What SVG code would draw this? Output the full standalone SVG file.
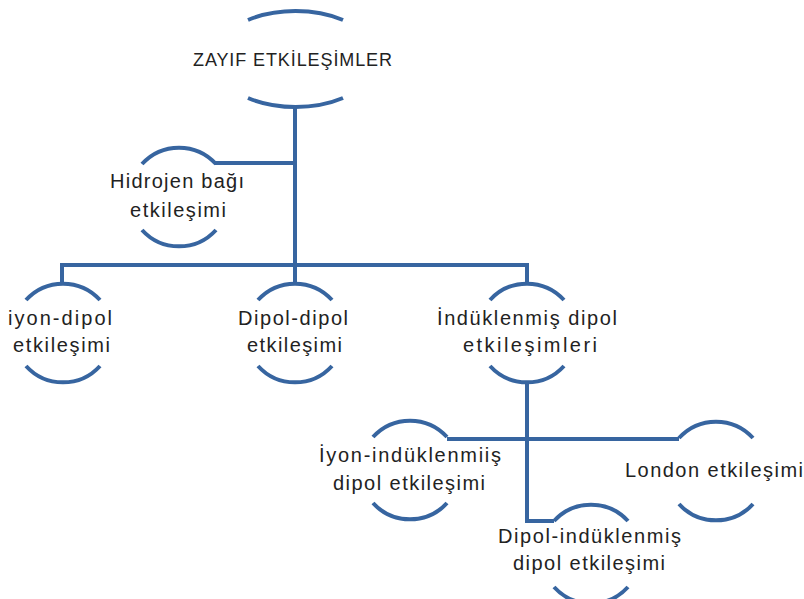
<svg xmlns="http://www.w3.org/2000/svg" width="804" height="599" viewBox="0 0 804 599">
<style>
.arc{fill:none;stroke:#3765a0;stroke-width:4;stroke-linecap:butt}
.con{fill:none;stroke:#3765a0;stroke-width:4;stroke-linejoin:miter}
text{font-family:"Liberation Sans",Arial,sans-serif;font-size:20px;fill:#222222;text-anchor:middle}
.t{font-size:18px}
</style>
<rect width="804" height="599" fill="#ffffff"/>
<g id="connectors">
<path class="con" d="M295,108 V265"/>
<path class="con" d="M215,163 H295"/>
<path class="con" d="M62,283 V265 H527 V283"/>
<path class="con" d="M295,265 V283"/>
<path class="con" d="M527,383 V521 H554"/>
<path class="con" d="M447,439 H679"/>
</g>
<g id="n-zayif">
<path class="arc" d="M248,20 A82,48.5 0 0 1 343,20"/>
<path class="arc" d="M248,98 A82,48.5 0 0 0 343,98"/>
<text class="t" x="292.5" y="66" textLength="199" lengthAdjust="spacing">ZAYIF ETKİLEŞİMLER</text>
</g>
<g id="n-hidrojen">
<path class="arc" d="M142,164 A50,50 0 0 1 216,164"/>
<path class="arc" d="M142,230 A50,50 0 0 0 216,230"/>
<text x="177" y="188" textLength="134" lengthAdjust="spacing">Hidrojen bağı</text>
<text x="178" y="217" textLength="96" lengthAdjust="spacing">etkileşimi</text>
</g>
<g id="n-iyondipol">
<path class="arc" d="M26,300 A50,50 0 0 1 100,300"/>
<path class="arc" d="M26,366 A50,50 0 0 0 100,366"/>
<text x="60" y="325" textLength="104" lengthAdjust="spacing">iyon-dipol</text>
<text x="61.5" y="352" textLength="97" lengthAdjust="spacing">etkileşimi</text>
</g>
<g id="n-dipoldipol">
<path class="arc" d="M258,300 A50,50 0 0 1 332,300"/>
<path class="arc" d="M258,366 A50,50 0 0 0 332,366"/>
<text x="293" y="325" textLength="110" lengthAdjust="spacing">Dipol-dipol</text>
<text x="294.5" y="352" textLength="95" lengthAdjust="spacing">etkileşimi</text>
</g>
<g id="n-induklenmis">
<path class="arc" d="M490,300 A50,50 0 0 1 564,300"/>
<path class="arc" d="M490,366 A50,50 0 0 0 564,366"/>
<text x="527" y="325" textLength="180" lengthAdjust="spacing">İndüklenmiş dipol</text>
<text x="530" y="352" textLength="134" lengthAdjust="spacing">etkileşimleri</text>
</g>
<g id="n-iyoninduklenmis">
<path class="arc" d="M373,437 A50,50 0 0 1 447,437"/>
<path class="arc" d="M373,503 A50,50 0 0 0 447,503"/>
<text x="410" y="462" textLength="182" lengthAdjust="spacing">İyon-indüklenmiiş</text>
<text x="409" y="490" textLength="152" lengthAdjust="spacing">dipol etkileşimi</text>
</g>
<g id="n-london">
<path class="arc" d="M679,438 A50,50 0 0 1 753,438"/>
<path class="arc" d="M679,504 A50,50 0 0 0 753,504"/>
<text x="714" y="477" textLength="178" lengthAdjust="spacing">London etkileşimi</text>
</g>
<g id="n-dipolinduklenmis">
<path class="arc" d="M554,521 A50,50 0 0 1 628,521"/>
<path class="arc" d="M554,587 A50,50 0 0 0 628,587"/>
<text x="589.5" y="543" textLength="183" lengthAdjust="spacing">Dipol-indüklenmiş</text>
<text x="589" y="570" textLength="152" lengthAdjust="spacing">dipol etkileşimi</text>
</g>
</svg>
